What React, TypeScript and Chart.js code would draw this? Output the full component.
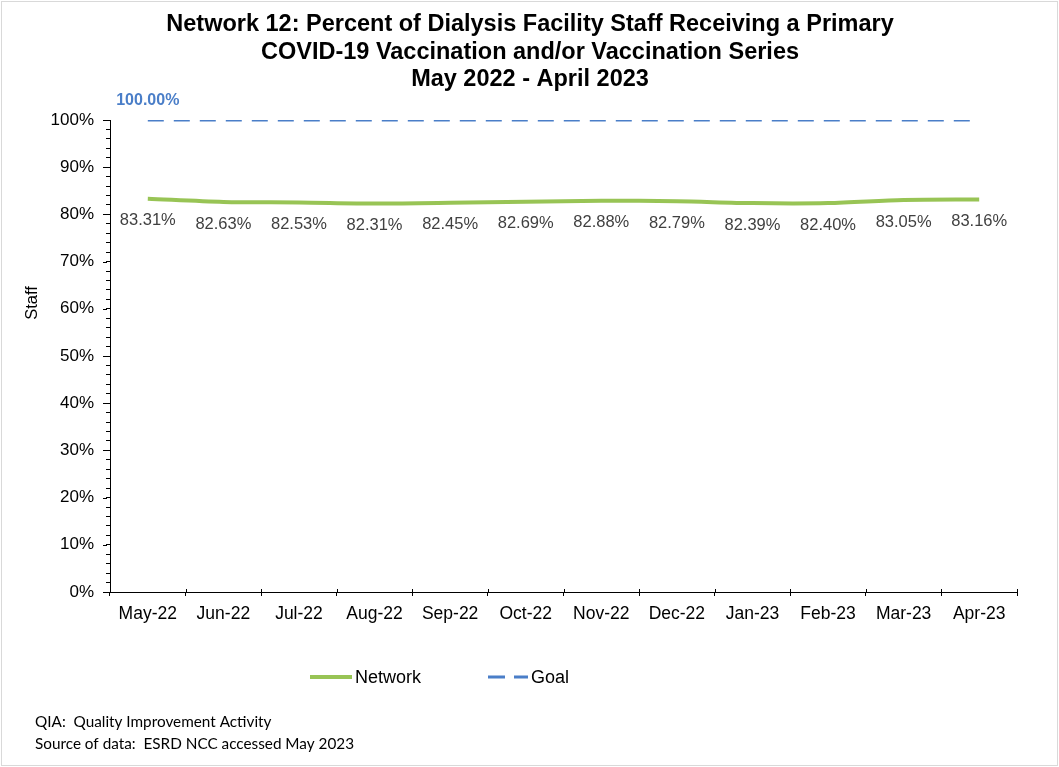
import React, { useEffect, useRef } from "react";
import { Chart, registerables } from "chart.js";

Chart.register(...registerables);

const categories = ["May-22", "Jun-22", "Jul-22", "Aug-22", "Sep-22", "Oct-22", "Nov-22", "Dec-22", "Jan-23", "Feb-23", "Mar-23", "Apr-23"];
const networkValues = [83.31, 82.63, 82.53, 82.31, 82.45, 82.69, 82.88, 82.79, 82.39, 82.4, 83.05, 83.16];
const goalValues = [100, 100, 100, 100, 100, 100, 100, 100, 100, 100, 100, 100];
const titleLines = [
  "Network 12: Percent of Dialysis Facility Staff Receiving a Primary",
  "COVID-19 Vaccination and/or Vaccination Series",
  "May 2022 - April 2023",
];
const yAxisTitle = "Staff";
const footnotes = ["QIA:  Quality Improvement Activity", "Source of data:  ESRD NCC accessed May 2023"];

const FONT = "Arial, 'Liberation Sans', sans-serif";
const GREEN = "#98C455";
const BLUE = "#4A7EC8";

const decorPlugin = {
  id: "decor",
  beforeDraw(chart: any) {
    const ctx = chart.ctx;
    ctx.save();
    ctx.fillStyle = "#ffffff";
    ctx.fillRect(0, 0, chart.width, chart.height);
    ctx.strokeStyle = "#d9d9d9";
    ctx.lineWidth = 1;
    ctx.strokeRect(1.5, 1.5, chart.width - 3, chart.height - 3);
    ctx.restore();
  },
  afterDraw(chart: any) {
    const ctx = chart.ctx;
    ctx.save();
    // title
    ctx.fillStyle = "#000";
    ctx.font = `bold 23.5px ${FONT}`;
    ctx.textAlign = "center";
    ctx.textBaseline = "middle";
    titleLines.forEach((t, i) => ctx.fillText(t, 530, 25 + i * 27.5));

    // y-axis title
    ctx.save();
    ctx.translate(32, 303);
    ctx.rotate(-Math.PI / 2);
    ctx.font = `16.5px ${FONT}`;
    ctx.fillText(yAxisTitle, 0, 0);
    ctx.restore();

    // data labels for Network
    const meta0 = chart.getDatasetMeta(0);
    ctx.font = `16.5px ${FONT}`;
    ctx.fillStyle = "#404040";
    meta0.data.forEach((pt: any, i: number) => {
      ctx.fillText(networkValues[i].toFixed(2) + "%", pt.x, pt.y + 22);
    });
    // goal label at first point
    const meta1 = chart.getDatasetMeta(1);
    const g = meta1.data[0];
    ctx.font = `bold 16px ${FONT}`;
    ctx.fillStyle = BLUE;
    ctx.fillText(goalValues[0].toFixed(2) + "%", g.x, g.y - 19);

    // legend
    const ly = 677;
    const legendX = [310, 488];
    ctx.textAlign = "left";
    ctx.font = `18px ${FONT}`;
    chart.data.datasets.forEach((ds: any, i: number) => {
      const lx = legendX[i];
      const w = i === 1 ? 40 : 42;
      ctx.beginPath();
      ctx.strokeStyle = ds.borderColor;
      ctx.lineWidth = ds.borderWidth;
      ctx.setLineDash(i === 1 ? [17, 9] : []);
      ctx.moveTo(lx, ly);
      ctx.lineTo(lx + w, ly);
      ctx.stroke();
      ctx.setLineDash([]);
      ctx.fillStyle = "#000";
      ctx.fillText(ds.label, lx + w + 3, ly + 1);
    });

    // footnotes
    ctx.font = `15.3px Lato, 'Open Sans', sans-serif`;
    ctx.fillStyle = "#000";
    footnotes.forEach((t, i) => ctx.fillText(t, 35, 722 + i * 22));

    // x-axis ticks crossing upward
    const xs = chart.scales.x;
    const ys = chart.scales.y;
    const { bottom, left } = chart.chartArea;
    ctx.strokeStyle = "#000";
    ctx.lineWidth = 1;
    for (let i = 0; i <= categories.length; i++) {
      const px = Math.round(xs.getPixelForValue(i - 0.5)) + 0.5;
      ctx.beginPath();
      ctx.moveTo(px, bottom - 3);
      ctx.lineTo(px, bottom);
      ctx.stroke();
    }
    // longer major ticks on y axis
    for (let v = 0; v <= 100; v += 10) {
      const py = Math.round(ys.getPixelForValue(v)) + 0.5;
      ctx.beginPath();
      ctx.moveTo(left - 7, py);
      ctx.lineTo(left - 3, py);
      ctx.stroke();
    }
    ctx.restore();
  },
};

export default function App() {
  const ref = useRef<HTMLCanvasElement>(null);
  useEffect(() => {
    if (!ref.current) return;
    const chart = new Chart(ref.current, {
      type: "line",
      data: {
        labels: categories,
        datasets: [
          {
            label: "Network",
            data: networkValues,
            borderColor: GREEN,
            backgroundColor: GREEN,
            borderWidth: 4,
            pointRadius: 0,
            tension: 0.3,
            fill: false,
          },
          {
            label: "Goal",
            data: goalValues,
            borderColor: BLUE,
            backgroundColor: BLUE,
            borderWidth: 3,
            borderDash: [16, 10],
            pointRadius: 0,
            fill: false,
          },
        ],
      },
      options: {
        animation: false,
        responsive: false,
        devicePixelRatio: 1,
        layout: { padding: { top: 120, right: 42, bottom: 115, left: 0 } },
        plugins: {
          legend: { display: false },
          title: { display: false },
          tooltip: { enabled: false },
        },
        scales: {
          x: {
            offset: true,
            afterFit: (s: any) => {
              s.height = 60;
            },
            grid: {
              offset: true,
              drawOnChartArea: false,
              tickLength: 4,
              color: "#000",
            },
            border: { color: "#000", width: 1 },
            ticks: {
              color: "#000",
              font: { family: FONT, size: 17.5 },
              padding: 8,
              maxRotation: 0,
              autoSkip: false,
            },
          },
          y: {
            min: 0,
            max: 100,
            afterFit: (s: any) => {
              s.width = 110;
            },
            grid: {
              drawOnChartArea: false,
              tickLength: 4,
              color: "#000",
            },
            border: { color: "#000", width: 1 },
            ticks: {
              stepSize: 2,
              autoSkip: false,
              maxTicksLimit: 100,
              color: "#000",
              font: { family: FONT, size: 17 },
              padding: 12,
              callback: (v: any) => (Number(v) % 10 === 0 ? v + "%" : ""),
            },
          },
        },
      },
      plugins: [decorPlugin],
    });
    return () => chart.destroy();
  }, []);
  return (
    <div style={{ position: "absolute", left: 0, top: 0, width: 1059, height: 767, background: "#fff" }}>
      <canvas ref={ref} width={1059} height={767} style={{ display: "block" }} />
    </div>
  );
}
